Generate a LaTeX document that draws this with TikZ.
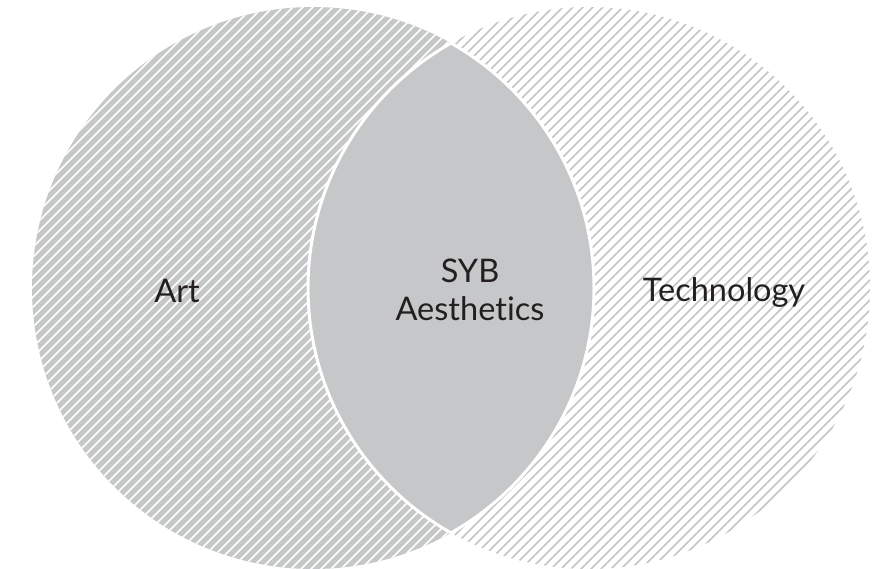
\documentclass[tikz,border=0pt]{standalone}
\usepackage{fontspec}
\setmainfont{Lato}[Ligatures={NoCommon,NoRare}]
\definecolor{venngray}{HTML}{C6C7C8}
\definecolor{hatchgray}{HTML}{C4C4C4}
\definecolor{txt}{HTML}{231F20}
\tikzset{
  lbl/.style={font=\fontsize{32.5}{38}\selectfont, text=txt, align=center},
  hatchw/.style={white, line width=1.6pt},
  hatchg/.style={hatchgray, line width=1.5pt},
  lensborder/.style={white, line width=3pt}
}
\begin{document}
\begin{tikzpicture}[x=1pt,y=-1pt]
\useasboundingbox (0,0) rectangle (889,569);
\coordinate (L) at (313,288);
\coordinate (R) at (589,288);
\def\rad{281}
% left circle: gray with white hatch
\begin{scope}
  \clip (L) circle (\rad);
  \fill[venngray] (L) circle (\rad);
  \foreach \i in {-600,-590,...,900}
    \draw[hatchw] (\i,600) -- ++(620,-620);
\end{scope}
% right circle: white with gray hatch
\begin{scope}
  \clip (R) circle (\rad);
  \fill[white] (R) circle (\rad);
  \foreach \i in {-300,-290,...,1200}
    \draw[hatchg] (\i,600) -- ++(620,-620);
\end{scope}
% lens
\begin{scope}
  \clip (L) circle (\rad);
  \fill[venngray] (R) circle (\rad);
  \draw[lensborder] (R) circle (\rad);
\end{scope}
\begin{scope}
  \clip (R) circle (\rad);
  \draw[lensborder] (L) circle (\rad);
\end{scope}
\node[lbl] (art) at (177,291) {Art};
\node[lbl] (syb) at (470,290) {SYB\\Aesthetics};
\node[lbl] (tech) at (724,292) {Technology};
\end{tikzpicture}
\end{document}
